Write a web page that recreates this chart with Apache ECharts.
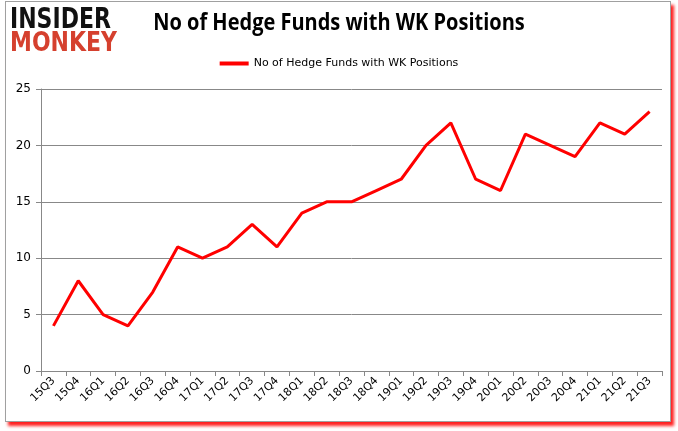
<!DOCTYPE html>
<html><head><meta charset="utf-8">
<script src="https://cdn.jsdelivr.net/npm/echarts@6/dist/echarts.min.js"></script>
<style>
html,body{margin:0;padding:0;background:#fff;}
#frame{position:absolute;left:5px;top:1px;width:664px;height:419px;border:1px solid #a0a0a0;box-shadow:3px 4px 3px #ff2020;background:#fff;}
#c{position:absolute;left:0;top:0;width:678px;height:431px;}
</style></head>
<body>
<div id="frame"></div>
<div id="c"></div>
<script>
const categories = ['15Q3','15Q4','16Q1','16Q2','16Q3','16Q4','17Q1','17Q2','17Q3','17Q4','18Q1','18Q2','18Q3','18Q4','19Q1','19Q2','19Q3','19Q4','20Q1','20Q2','20Q3','20Q4','21Q1','21Q2','21Q3'];
const funds = [4,8,5,4,7,11,10,11,13,11,14,15,15,16,17,20,22,17,16,21,20,19,22,21,23];
const seriesName = 'No of Hedge Funds with WK Positions';
const chart = echarts.init(document.getElementById('c'));
chart.setOption({
  animation:false,
  legend:{top:53,left:'center',itemWidth:29,itemHeight:4,itemGap:2,icon:'rect',textStyle:{fontFamily:'DejaVu Sans',fontSize:11,color:'#000'},data:[seriesName]},
  graphic:[
    {type:'text',x:10,y:6,scaleY:1.3,style:{text:'INSIDER',x:0,y:0,textVerticalAlign:'top',font:'bold 22px "DejaVu Sans"',fill:'#111'}},
    {type:'text',x:10,y:31,scaleY:1.2,style:{text:'MONKEY',x:0,y:0,textVerticalAlign:'top',font:'bold 22px "DejaVu Sans"',fill:'#d5402e'}},
    {type:'text',x:339,y:12,scaleY:1.15,style:{text:seriesName,x:0,y:0,textAlign:'center',textVerticalAlign:'top',font:'bold 20px "Open Sans"',fill:'#000'}}
  ],
  grid:{left:41,right:16,top:89,bottom:60},
  xAxis:{type:'category',data:categories,boundaryGap:true,
    axisLine:{lineStyle:{color:'#888'}},axisTick:{show:true,alignWithLabel:false,lineStyle:{color:'#888'}},
    axisLabel:{rotate:45,interval:0,fontFamily:'DejaVu Sans',fontSize:11,color:'#000',margin:8}},
  yAxis:{type:'value',min:0,max:25,interval:5,
    axisLine:{show:true,lineStyle:{color:'#888'}},axisTick:{show:true,lineStyle:{color:'#888'}},
    splitLine:{lineStyle:{color:'#888'}},
    axisLabel:{fontFamily:'DejaVu Sans',fontSize:12,color:'#000',margin:10}},
  series:[{name:seriesName,type:'line',data:funds,symbol:'none',lineStyle:{color:'#ff0000',width:3},itemStyle:{color:'#ff0000'}}]
});
</script>
</body></html>
